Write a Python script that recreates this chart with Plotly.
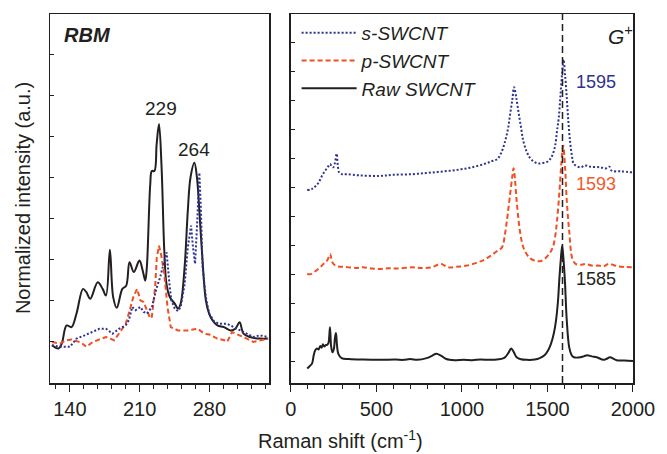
import plotly.graph_objects as go

# ---------------- Data ----------------
# Left panel: RBM region (Raman shift, cm-1) vs normalized intensity (a.u.)
rbm_raw_x = [122.0, 128.5, 131.8, 136.7, 141.6, 146.6, 153.1, 156.5, 160.4, 167.9, 172.8, 176.2,
             180.1, 183.4, 187.0, 192.6, 196.5, 199.8, 204.1, 209.7, 213.0, 215.6, 217.2, 220.6,
             222.2, 224.8, 227.0, 229.4, 232.0, 234.7, 236.9, 240.2, 245.2, 248.5, 251.1, 255.1,
             258.3, 261.0, 264.9, 267.5, 269.9, 273.1, 276.4, 279.7, 283.0, 288.0, 294.5, 301.1,
             306.0, 310.3, 314.2, 320.8, 330.7, 338.9]
rbm_raw_y = [0.92, 0.84, 0.96, 1.40, 1.36, 1.69, 2.29, 2.21, 2.05, 2.45, 2.29, 2.13,
             3.24, 2.09, 1.83, 2.29, 2.37, 2.94, 2.70, 2.98, 2.74, 2.49, 2.82, 4.83,
             5.16, 5.16, 5.80, 6.30, 5.24, 3.22, 2.41, 2.09, 1.93, 1.81, 1.93, 2.82,
             4.19, 5.00, 5.36, 5.00, 4.19, 2.98, 2.01, 1.69, 1.53, 1.40, 1.36, 1.28,
             1.32, 1.48, 1.20, 1.12, 1.08, 1.08]

rbm_p_x = [122.0, 130.0, 136.7, 141.6, 151.5, 156.5, 163.1, 176.2, 184.4, 189.4, 196.0, 200.0,
           203.6, 207.4, 210.7, 214.0, 217.3, 220.6, 222.2, 223.9, 225.5, 227.2, 229.4, 231.4,
           234.7, 237.9, 241.2, 248.5, 258.3, 268.2, 274.8, 280.0, 287.9, 295.0, 297.8, 302.8,
           311.0, 317.5, 324.1, 330.7, 338.9]
rbm_p_y = [1.00, 0.96, 1.04, 1.06, 0.98, 0.88, 1.00, 1.12, 1.04, 1.20, 1.44, 1.77,
           2.09, 2.29, 2.01, 1.97, 1.77, 1.57, 1.61, 2.09, 2.33, 3.06, 3.34, 3.14,
           2.66, 1.85, 1.36, 1.28, 1.28, 1.32, 1.20, 1.18, 1.08, 1.04, 1.00, 1.24,
           1.16, 1.08, 1.00, 1.04, 1.08]

rbm_s_x = [121.9, 130.1, 140.0, 146.6, 154.8, 163.1, 169.7, 176.2, 182.8, 189.3, 195.9, 199.2,
           202.5, 205.8, 210.7, 214.0, 217.3, 222.3, 227.2, 230.5, 233.7, 237.0, 240.2, 241.8,
           245.2, 248.5, 251.1, 255.1, 258.3, 261.6, 263.5, 265.6, 267.5, 269.9, 271.5, 273.1,
           276.4, 279.7, 284.7, 289.6, 297.8, 304.4, 311.0, 317.5, 324.1, 330.7, 338.9]
rbm_s_y = [0.92, 0.88, 0.88, 1.08, 1.16, 1.24, 1.32, 1.32, 1.20, 1.32, 1.40, 1.53,
           1.85, 1.77, 1.85, 1.73, 1.69, 1.85, 2.33, 2.57, 2.90, 3.18, 2.33, 2.01,
           1.81, 1.75, 1.85, 2.40, 3.30, 3.83, 3.30, 2.90, 3.80, 5.12, 4.19, 2.82,
           2.09, 1.69, 1.50, 1.44, 1.44, 1.36, 1.28, 1.20, 1.12, 1.16, 1.12]

# Right panel: full spectra (offset stacked)
raw_x = [96, 110, 124, 134, 143, 153, 163, 172, 180, 188, 196, 204, 212, 220, 229, 236, 244,
         252, 258, 264, 270, 278, 297, 340, 420, 520, 612, 660, 698, 740, 794, 825, 851, 880,
         909, 960, 1010, 1060, 1110, 1160, 1216, 1240, 1254, 1272, 1288, 1304, 1320, 1345,
         1380, 1426, 1455, 1483, 1505, 1521, 1537, 1550, 1562, 1569, 1578, 1586, 1594, 1602,
         1613, 1627, 1640, 1655, 1693, 1715, 1732, 1760, 1789, 1827, 1847, 1865, 1904, 1950,
         2000]
raw_y = [-0.26, -0.18, -0.09, 0.20, 0.37, 0.43, 0.40, 0.52, 0.46, 0.58, 0.50, 0.55, 0.56, 0.62,
         1.17, 0.50, 0.30, 0.42, 0.80, 0.97, 0.55, 0.25, 0.10, 0.07, 0.05, 0.04, 0.05, 0.04,
         0.07, 0.04, 0.10, 0.18, 0.25, 0.18, 0.07, 0.03, 0.04, 0.03, 0.05, 0.04, 0.06, 0.09,
         0.14, 0.28, 0.43, 0.30, 0.13, 0.06, 0.04, 0.05, 0.10, 0.20, 0.38, 0.60, 0.95, 1.40,
         2.10, 2.78, 3.50, 3.99, 3.50, 2.78, 1.40, 0.48, 0.22, 0.13, 0.13, 0.17, 0.20, 0.16,
         0.13, 0.04, 0.08, 0.13, 0.03, 0.02, 0.00]

p_x = [96, 115, 134, 153, 172, 190, 201, 215, 230, 240, 249, 263, 277, 320, 380, 421, 470, 517,
       570, 620, 708, 760, 823, 877, 919, 970, 1030, 1091, 1130, 1168, 1200, 1234, 1252, 1263,
       1282, 1295, 1302, 1310, 1320, 1339, 1358, 1378, 1400, 1425, 1455, 1483, 1510, 1531,
       1545, 1556, 1569, 1581, 1592, 1603, 1613, 1627, 1646, 1665, 1700, 1723, 1760, 1799,
       1830, 1857, 1914, 1960, 2000]
p_y = [3.01, 3.00, 3.07, 3.15, 3.24, 3.35, 3.41, 3.50, 3.70, 3.45, 3.36, 3.30, 3.27, 3.25, 3.22,
       3.24, 3.20, 3.18, 3.21, 3.20, 3.24, 3.22, 3.24, 3.36, 3.24, 3.26, 3.30, 3.41, 3.50,
       3.64, 3.78, 3.93, 4.40, 4.85, 5.77, 6.40, 6.67, 6.30, 5.54, 4.50, 3.95, 3.70, 3.55,
       3.47, 3.45, 3.53, 3.70, 3.93, 4.30, 4.85, 5.77, 6.80, 7.44, 6.70, 5.54, 4.50, 3.53,
       3.36, 3.33, 3.36, 3.30, 3.30, 3.28, 3.36, 3.27, 3.25, 3.24]

s_x = [96, 124, 145, 163, 182, 201, 218, 230, 240, 248, 258, 268, 275, 283, 300, 325, 400, 517,
       600, 708, 790, 861, 930, 995, 1060, 1129, 1170, 1206, 1230, 1253, 1270, 1282, 1295,
       1305, 1318, 1330, 1345, 1359, 1378, 1397, 1420, 1445, 1475, 1502, 1518, 1531, 1545,
       1556, 1566, 1575, 1585, 1594, 1603, 1613, 1622, 1632, 1643, 1655, 1693, 1720, 1751,
       1808, 1840, 1862, 1876, 1930, 2000]
s_y = [5.91, 5.95, 6.05, 6.17, 6.40, 6.58, 6.72, 6.81, 6.72, 6.70, 6.85, 7.17, 6.75, 6.52, 6.46,
       6.46, 6.42, 6.40, 6.44, 6.46, 6.50, 6.54, 6.58, 6.63, 6.70, 6.81, 6.90, 6.98, 7.20,
       7.61, 8.05, 8.53, 9.05, 9.47, 9.10, 8.64, 8.10, 7.61, 7.25, 7.03, 6.90, 6.83, 6.85,
       6.90, 7.00, 7.15, 7.45, 7.96, 8.40, 9.10, 9.90, 10.43, 9.90, 9.10, 8.30, 7.61, 7.10,
       6.81, 6.70, 6.76, 6.72, 6.70, 6.66, 6.72, 6.58, 6.56, 6.52]

G_PLUS_POS = 1588
rbm_peaks = [229, 264]
g_peaks = [1595, 1593, 1585]

BLUE = "#2e3192"
RED = "#f04e23"
BLACK = "#231f20"
FONT = "Liberation Sans, Arial, sans-serif"

fig = go.Figure()

dot = dict(color=BLUE, width=2, dash="2px,2px")
dash = dict(color=RED, width=2, dash="5px,3px")
solid = dict(color=BLACK, width=2)

# Left panel traces (black drawn first, coloured spectra on top)
fig.add_trace(go.Scatter(x=rbm_raw_x, y=rbm_raw_y, mode="lines", line=solid, showlegend=False,
                         line_shape="spline", xaxis="x", yaxis="y"))
fig.add_trace(go.Scatter(x=rbm_p_x, y=rbm_p_y, mode="lines", line=dash, showlegend=False,
                         xaxis="x", yaxis="y"))
fig.add_trace(go.Scatter(x=rbm_s_x, y=rbm_s_y, mode="lines", line=dot, showlegend=False,
                         xaxis="x", yaxis="y"))

# Right panel traces
fig.add_trace(go.Scatter(x=raw_x, y=raw_y, mode="lines", line=solid, name="<i>Raw SWCNT</i>",
                         line_shape="spline", xaxis="x2", yaxis="y2"))
fig.add_trace(go.Scatter(x=p_x, y=p_y, mode="lines", line=dash, name="<i>p-SWCNT</i>",
                         line_shape="spline", xaxis="x2", yaxis="y2"))
fig.add_trace(go.Scatter(x=s_x, y=s_y, mode="lines", line=dot, name="<i>s-SWCNT</i>",
                         line_shape="spline", xaxis="x2", yaxis="y2"))

axis_common = dict(showline=True, linecolor=BLACK, linewidth=1.5, mirror=True,
                   showgrid=False, zeroline=False,
                   tickfont=dict(family=FONT, size=20, color=BLACK))

fig.update_layout(
    width=667, height=454,
    margin=dict(l=50, r=24, t=12, b=71),
    paper_bgcolor="white", plot_bgcolor="white",
    font=dict(family=FONT, color=BLACK),
    hovermode=False,
    xaxis=dict(domain=[0, 0.376], range=[120, 340], tickmode="array",
               tickvals=[140, 210, 280], ticks="outside", ticklen=7, tickcolor=BLACK,
               minor=dict(ticks="outside", ticklen=4, dtick=14, tick0=0, tickcolor=BLACK),
               anchor="y", **axis_common),
    yaxis=dict(domain=[0, 1], range=[0, 8.98], tickmode="array",
               tickvals=[1, 2, 3, 4, 5, 6, 7, 8], ticks="inside", ticklen=4, tickcolor=BLACK,
               showticklabels=False, anchor="x", **axis_common),
    xaxis2=dict(domain=[0.413, 1], range=[0, 2000], dtick=500, tick0=0,
                ticks="outside", ticklen=7, tickcolor=BLACK,
                minor=dict(ticks="outside", ticklen=4, dtick=100, tickcolor=BLACK),
                anchor="y2", **axis_common),
    yaxis2=dict(domain=[0, 1], range=[-0.76, 12.0], dtick=1, tick0=0,
                ticks="inside", ticklen=4, tickcolor=BLACK,
                showticklabels=False, anchor="x2", **axis_common),
    legend=dict(x=0.423, y=1.0, xanchor="left", yanchor="top", traceorder="reversed",
                bgcolor="rgba(0,0,0,0)", font=dict(family=FONT, size=19, color=BLACK),
                tracegroupgap=0, itemwidth=55),
    showlegend=True,
)

# Vertical dashed G+ reference line
fig.add_shape(type="line", xref="x2", yref="y2 domain", x0=G_PLUS_POS, x1=G_PLUS_POS,
              y0=0, y1=1, line=dict(color=BLACK, width=1.5, dash="7px,4px"))

ann = []
ann.append(dict(text="<b><i>RBM</i></b>", xref="x domain", yref="y domain", x=0.055, y=0.943,
                xanchor="left", yanchor="middle", showarrow=False,
                font=dict(size=20, color=BLACK, family=FONT)))
ann.append(dict(text=str(rbm_peaks[0]), xref="x", yref="y", x=231.5, y=6.68, showarrow=False,
                xanchor="center", yanchor="middle", font=dict(size=19, color=BLACK, family=FONT)))
ann.append(dict(text=str(rbm_peaks[1]), xref="x", yref="y", x=265, y=5.69, showarrow=False,
                xanchor="center", yanchor="middle", font=dict(size=19, color=BLACK, family=FONT)))
ann.append(dict(text="<i>G</i><sup>+</sup>", xref="x2 domain", yref="y2 domain", x=0.92, y=0.943,
                xanchor="left", yanchor="middle", showarrow=False,
                font=dict(size=21, color=BLACK, family=FONT)))
ann.append(dict(text=str(g_peaks[0]), xref="x2", yref="y2", x=1655, y=9.64, showarrow=False,
                xanchor="left", yanchor="middle", font=dict(size=18, color=BLUE, family=FONT)))
ann.append(dict(text=str(g_peaks[1]), xref="x2", yref="y2", x=1655, y=6.13, showarrow=False,
                xanchor="left", yanchor="middle", font=dict(size=18, color="#f15a29", family=FONT)))
ann.append(dict(text=str(g_peaks[2]), xref="x2", yref="y2", x=1655, y=2.85, showarrow=False,
                xanchor="left", yanchor="middle", font=dict(size=18, color=BLACK, family=FONT)))
ann.append(dict(text="Normalized intensity (a.u.)", xref="paper", yref="paper", x=-0.047, y=0.5,
                textangle=-90, xanchor="center", yanchor="middle", showarrow=False,
                font=dict(size=20, color=BLACK, family=FONT)))
ann.append(dict(text="Raman shift (cm<sup>-1</sup>)", xref="paper", yref="paper", x=0.499, y=-0.154,
                xanchor="center", yanchor="middle", showarrow=False,
                font=dict(size=20, color=BLACK, family=FONT)))
fig.update_layout(annotations=ann)

fig.write_html("out.html", config={"displayModeBar": False, "staticPlot": True},
               post_script="document.body.style.margin='0px';")
